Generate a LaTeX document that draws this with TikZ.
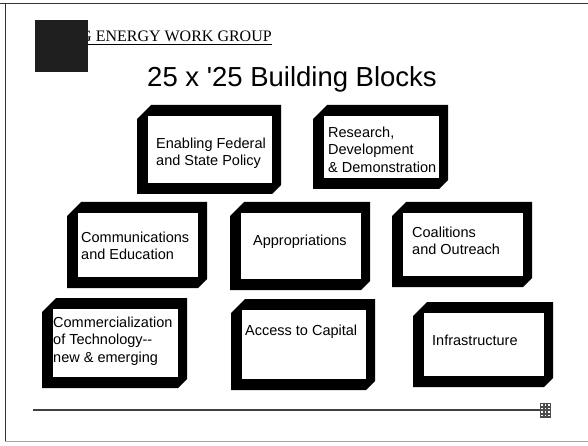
\documentclass[tikz,border=0pt]{standalone}
\usepackage{fontspec}
\setmainfont{Liberation Serif}
\newfontfamily\arialf{Liberation Sans}
\newcommand{\blockshape}[4]{%
  \fill[black] (#1,#2+14) -- (#1+14,#2) -- (#3,#2) -- (#3,#4-9) -- (#3-9,#4) -- (#1,#4) -- cycle;
  \fill[white] (#1+11,#2+11) rectangle (#3-9,#4-11);}
\tikzset{
  blocktext/.style={anchor=north west, inner sep=0pt, align=left,
    font=\arialf\fontsize{14.5}{17.5}\selectfont},
  framelines/.style={draw=black!80, line width=0.8pt}
}
\begin{document}
\begin{tikzpicture}[x=1pt,y=-1pt]
\useasboundingbox (0,0) rectangle (588,446);
\fill[white] (0,0) rectangle (588,446);
% slide border
\draw[framelines] (0,3) -- (588,3);
\draw[framelines] (5,3) -- (5,441);
\draw[draw=black!35, line width=0.6pt] (5,441) -- (588,441);
% header
\node[anchor=base west, inner sep=0pt, font=\fontsize{16}{19}\selectfont] (hdr) at (80,42) {G ENERGY WORK GROUP};
\draw[line width=0.6pt] (hdr.base west) ++(0,2) -- ([yshift=-2pt]hdr.base east);
\fill[black!88] (35,20) rectangle (88,72);
% title
\node[anchor=base, inner sep=0pt, font=\arialf\fontsize{27.5}{30}\selectfont] (title) at (292,87) {25 x '25 Building Blocks};
% blocks
\blockshape{137}{105}{281}{194}
\blockshape{313}{105}{448}{189}
\blockshape{67}{202}{207}{288}
\blockshape{230}{202}{370}{290}
\blockshape{392}{202}{532}{287}
\blockshape{42}{298}{187}{388}
\blockshape{231}{299}{375}{390}
\blockshape{413}{302}{553}{387}
\node[blocktext] (b1) at (156,137.5) {Enabling Federal\\and State Policy};
\node[blocktext] (b2) at (328,126.5) {Research,\\Development\\\& Demonstration};
\node[blocktext] (b3) at (81,231.5) {Communications\\and Education};
\node[blocktext] (b4) at (253,234.5) {Appropriations};
\node[blocktext] (b5) at (412,226.5) {Coalitions\\and Outreach};
\node[blocktext] (b6) at (53,316.5) {Commercialization\\of Technology--\\new \& emerging};
\node[blocktext] (b7) at (245,324.5) {Access to Capital};
\node[blocktext] (b8) at (432,334.5) {Infrastructure};
% bottom rule
\draw[black!75, line width=1.6pt] (33,410) -- (540,410);
\fill[black!70] (540,403) rectangle (551,418);
\foreach \i in {0,1,2} \foreach \j in {0,1,2,3} {
  \fill[white] (541+\i*3.5,404+\j*3.6) rectangle ++(1.5,1.5);
}
\end{tikzpicture}
\end{document}
